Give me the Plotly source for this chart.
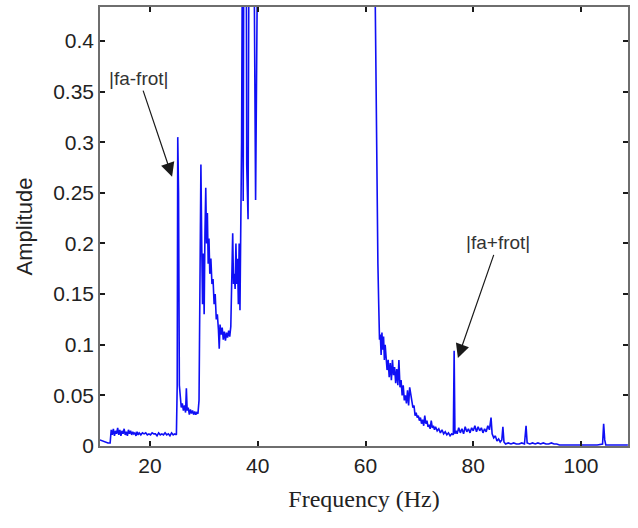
import plotly.graph_objects as go

freq = [
    10.7, 11.2, 11.7, 12.2, 12.6,
    12.8, 13.0, 13.2, 13.4, 13.6, 13.8, 14.0, 14.2, 14.4, 14.6, 14.8, 15.0, 15.2, 15.4, 15.6, 15.8,
    16.0, 16.2, 16.4, 16.6, 16.8, 17.0, 17.2, 17.4, 17.6, 17.8, 18.0, 18.3, 18.6, 18.9, 19.2, 19.5,
    19.8, 20.1, 20.4, 20.7, 21.0, 21.3, 21.6, 21.9, 22.2, 22.5, 22.8, 23.1, 23.4, 23.7, 24.0, 24.3,
    24.6, 24.9,
    25.05, 25.15, 25.3, 25.45, 25.6, 25.8, 26.0, 26.2, 26.4, 26.6, 26.75, 26.9, 27.1, 27.3, 27.5,
    27.7, 27.9, 28.1, 28.3, 28.5, 28.7, 28.9, 29.1, 29.3, 29.45, 29.6, 29.75, 29.9, 30.05, 30.2,
    30.35, 30.5, 30.65, 30.8, 30.95, 31.1, 31.3, 31.5, 31.7, 31.9, 32.1, 32.3, 32.5, 32.7, 32.85,
    33.0, 33.2, 33.4, 33.6, 33.8, 34.0, 34.2, 34.4, 34.6, 34.8, 35.0, 35.2, 35.35, 35.5, 35.65,
    35.8, 35.95, 36.1, 36.25, 36.4, 36.55, 36.7, 36.85, 37.0, 37.15, 37.3, 37.45, 37.6, 37.8,
    37.95, 38.2, 38.4, 38.7, 39.0, 39.3, 39.6, 39.8, 40.2,
    41.0, 44.0, 47.0, 50.0, 53.0, 56.0, 59.0, 61.0,
    61.5, 61.8, 62.0, 62.05, 62.1, 62.2, 62.3, 62.45, 62.6, 62.75, 62.9, 63.05, 63.2, 63.35, 63.5,
    63.65, 63.8, 64.0, 64.2, 64.4, 64.6, 64.8, 65.0, 65.2, 65.4, 65.6, 65.8, 66.0, 66.2, 66.4,
    66.6, 66.8, 67.0, 67.2, 67.4, 67.6, 67.8, 68.0, 68.2, 68.4, 68.6, 68.8, 69.0, 69.2, 69.4,
    69.6, 69.8, 70.0, 70.2, 70.4, 70.6, 70.8, 71.0, 71.2, 71.4, 71.6, 71.8, 72.0, 72.2, 72.4,
    72.6, 72.8, 73.0, 73.3, 73.6, 73.9, 74.2, 74.5, 74.8, 75.1, 75.4, 75.7, 76.0, 76.3, 76.45,
    76.6, 76.8, 77.0, 77.3, 77.6, 77.9, 78.2, 78.5, 78.8, 79.1, 79.4, 79.7, 80.0, 80.3, 80.6,
    80.9, 81.2, 81.5, 81.8, 82.1, 82.4, 82.7, 83.0, 83.3, 83.5, 83.8, 84.1, 84.4, 84.7, 85.0,
    85.3, 85.5, 85.7, 86.0, 86.5, 87.0, 87.5, 88.0, 88.5, 89.0, 89.5, 89.8, 90.0, 90.5, 91.0,
    91.5, 92.0, 92.5, 93.0, 93.5, 94.0, 94.5, 95.0, 95.5, 96.0, 97.0, 98.0, 99.0, 100.0, 101.0,
    102.0, 103.0, 104.0, 104.2, 104.4, 104.6, 105.5, 106.5, 107.5, 108.7,
]

amplitude = [
    0.006, 0.005, 0.004, 0.003, 0.003,
    0.016, 0.011, 0.017, 0.010, 0.015, 0.012, 0.018, 0.011, 0.016, 0.010, 0.015, 0.012, 0.017, 0.011, 0.014, 0.010,
    0.016, 0.012, 0.015, 0.011, 0.014, 0.012, 0.013, 0.010, 0.014, 0.011, 0.013, 0.011, 0.013, 0.012, 0.013, 0.011,
    0.012, 0.011, 0.013, 0.012, 0.012, 0.010, 0.013, 0.011, 0.012, 0.011, 0.013, 0.011, 0.012, 0.010, 0.013, 0.011,
    0.012, 0.011,
    0.060, 0.305, 0.250, 0.060, 0.045, 0.038, 0.042, 0.035, 0.040, 0.033, 0.057, 0.035, 0.038, 0.031, 0.036,
    0.032, 0.035, 0.031, 0.034, 0.031, 0.033, 0.032, 0.045, 0.200, 0.278, 0.200, 0.140, 0.190, 0.130, 0.210,
    0.255, 0.200, 0.230, 0.180, 0.205, 0.170, 0.185, 0.160, 0.165, 0.140, 0.150, 0.125, 0.130, 0.115, 0.096,
    0.120, 0.110, 0.117, 0.105, 0.113, 0.104, 0.112, 0.107, 0.114, 0.108, 0.118, 0.170, 0.210, 0.160, 0.170,
    0.155, 0.200, 0.160, 0.185, 0.140, 0.200, 0.134, 0.200, 0.300, 0.500, 0.242, 0.600, 0.450, 0.700,
    0.278, 0.224, 0.550, 0.800, 0.600, 0.500, 0.243, 0.600, 0.900,
    1.200, 1.500, 3.000, 10.000, 3.000, 1.500, 0.900, 0.800,
    0.600, 0.450, 0.300, 0.260, 0.300, 0.250, 0.180, 0.140, 0.105, 0.110, 0.090, 0.112, 0.095, 0.108, 0.085,
    0.100, 0.088, 0.075, 0.085, 0.068, 0.082, 0.065, 0.085, 0.070, 0.078, 0.062, 0.076, 0.060, 0.085, 0.058,
    0.065, 0.050, 0.060, 0.045, 0.050, 0.042, 0.055, 0.040, 0.058, 0.050, 0.045, 0.038, 0.040, 0.030, 0.033,
    0.028, 0.030, 0.025, 0.028, 0.022, 0.026, 0.020, 0.030, 0.022, 0.025, 0.019, 0.021, 0.017, 0.025, 0.018,
    0.020, 0.016, 0.019, 0.015, 0.017, 0.013, 0.016, 0.012, 0.014, 0.011, 0.013, 0.010, 0.012, 0.011, 0.094,
    0.012, 0.015, 0.012, 0.018, 0.013, 0.017, 0.012, 0.019, 0.014, 0.017, 0.013, 0.018, 0.015, 0.020, 0.014,
    0.019, 0.015, 0.018, 0.013, 0.017, 0.014, 0.020, 0.016, 0.028, 0.012, 0.008, 0.010, 0.005, 0.007, 0.004,
    0.006, 0.019, 0.004, 0.002, 0.003, 0.002, 0.003, 0.002, 0.002, 0.003, 0.002, 0.020, 0.003, 0.002, 0.003,
    0.002, 0.003, 0.002, 0.003, 0.002, 0.002, 0.003, 0.002, 0.002, 0.001, 0.001, 0.001, 0.001, 0.001, 0.001,
    0.001, 0.001, 0.002, 0.022, 0.006, 0.001, 0.001, 0.001, 0.001, 0.001,
]

x_ticks = [20, 40, 60, 80, 100]
y_ticks = [0, 0.05, 0.1, 0.15, 0.2, 0.25, 0.3, 0.35, 0.4]
y_tick_text = ["0", "0.05", "0.1", "0.15", "0.2", "0.25", "0.3", "0.35", "0.4"]

fig = go.Figure()
fig.add_trace(go.Scatter(
    x=freq, y=amplitude, mode="lines",
    line=dict(color="rgb(15,15,245)", width=1.6),
    showlegend=False,
))

axis_common = dict(
    showline=True, linecolor="#6e6e6e", linewidth=1.5, mirror="ticks",
    ticks="inside", ticklen=5, tickwidth=2, tickcolor="#1a1a1a",
    showgrid=False, zeroline=False,
    tickfont=dict(family="Liberation Sans, Arial", size=21, color="#222"),
)

fig.update_xaxes(
    range=[10.72, 108.72], tickvals=x_ticks, **axis_common,
    title=dict(text="Frequency (Hz)", font=dict(family="Liberation Serif, Times New Roman", size=24, color="#222"), standoff=14),
)
fig.update_yaxes(
    range=[0, 0.4335], tickvals=y_ticks, ticktext=y_tick_text, **axis_common,
    title=dict(text="Amplitude", font=dict(family="Liberation Sans, Arial", size=22, color="#222"), standoff=14),
)

fig.add_annotation(
    x=24.1, y=0.266, text="|fa-frot|", showarrow=True,
    ax=-33, ay=-98, arrowhead=2, arrowsize=2.3, arrowwidth=1.2, arrowcolor="#1a1a1a",
    font=dict(family="Liberation Sans, Arial", size=19, color="#333"),
)
fig.add_annotation(
    x=77.15, y=0.087, text="|fa+frot|", showarrow=True,
    ax=40, ay=-115, arrowhead=2, arrowsize=2.3, arrowwidth=1.2, arrowcolor="#1a1a1a",
    font=dict(family="Liberation Sans, Arial", size=19, color="#333"),
)

fig.update_layout(
    width=638, height=528,
    margin=dict(l=100, r=10, t=5, b=82),
    paper_bgcolor="white", plot_bgcolor="white",
)

fig.write_html("out.html")
